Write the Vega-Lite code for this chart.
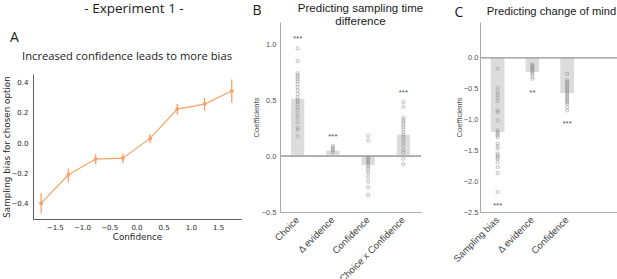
{
  "$schema": "https://vega.github.io/schema/vega-lite/v6.json",
  "padding": {"left": 1, "top": 1, "right": 0, "bottom": 0},
  "config": {
    "view": {"stroke": null},
    "font": "Liberation Sans",
    "title": {"fontWeight": "normal", "color": "#1a1a1a"},
    "axis": {"grid": false, "ticks": false, "labelOverlap": false, "tickCount": 20}
  },
  "datasets": {
    "a": [
      {"confidence": -1.75, "bias": -0.396, "lo": -0.462, "hi": -0.329},
      {"confidence": -1.25, "bias": -0.209, "lo": -0.258, "hi": -0.167},
      {"confidence": -0.75, "bias": -0.105, "lo": -0.14, "hi": -0.073},
      {"confidence": -0.25, "bias": -0.099, "lo": -0.132, "hi": -0.07},
      {"confidence": 0.25, "bias": 0.031, "lo": 0.0, "hi": 0.059},
      {"confidence": 0.75, "bias": 0.224, "lo": 0.187, "hi": 0.257},
      {"confidence": 1.25, "bias": 0.257, "lo": 0.213, "hi": 0.299},
      {"confidence": 1.75, "bias": 0.343, "lo": 0.266, "hi": 0.418}
    ],
    "b_bars": [
      {"predictor": "Choice", "coef": 0.513, "stars": "***"},
      {"predictor": "Δ evidence", "coef": 0.051, "stars": "***"},
      {"predictor": "Confidence", "coef": -0.078, "stars": ""},
      {"predictor": "Choice x Confidence", "coef": 0.192, "stars": "***"}
    ],
    "b_points": [
      {"predictor": "Choice", "coef": 0.964}, {"predictor": "Choice", "coef": 0.85}, {"predictor": "Choice", "coef": 0.742},
      {"predictor": "Choice", "coef": 0.724}, {"predictor": "Choice", "coef": 0.706}, {"predictor": "Choice", "coef": 0.688},
      {"predictor": "Choice", "coef": 0.67}, {"predictor": "Choice", "coef": 0.643}, {"predictor": "Choice", "coef": 0.616},
      {"predictor": "Choice", "coef": 0.586}, {"predictor": "Choice", "coef": 0.556}, {"predictor": "Choice", "coef": 0.526},
      {"predictor": "Choice", "coef": 0.502}, {"predictor": "Choice", "coef": 0.486}, {"predictor": "Choice", "coef": 0.465},
      {"predictor": "Choice", "coef": 0.435}, {"predictor": "Choice", "coef": 0.411}, {"predictor": "Choice", "coef": 0.375},
      {"predictor": "Choice", "coef": 0.345}, {"predictor": "Choice", "coef": 0.303}, {"predictor": "Choice", "coef": 0.255},
      {"predictor": "Choice", "coef": 0.237}, {"predictor": "Choice", "coef": 0.177},
      {"predictor": "Δ evidence", "coef": 0.035}, {"predictor": "Δ evidence", "coef": 0.05}, {"predictor": "Δ evidence", "coef": 0.065},
      {"predictor": "Δ evidence", "coef": 0.075}, {"predictor": "Δ evidence", "coef": 0.09},
      {"predictor": "Confidence", "coef": 0.183}, {"predictor": "Confidence", "coef": 0.141}, {"predictor": "Confidence", "coef": -0.009},
      {"predictor": "Confidence", "coef": -0.024}, {"predictor": "Confidence", "coef": -0.039}, {"predictor": "Confidence", "coef": -0.054},
      {"predictor": "Confidence", "coef": -0.069}, {"predictor": "Confidence", "coef": -0.087}, {"predictor": "Confidence", "coef": -0.108},
      {"predictor": "Confidence", "coef": -0.129}, {"predictor": "Confidence", "coef": -0.153}, {"predictor": "Confidence", "coef": -0.189},
      {"predictor": "Confidence", "coef": -0.228}, {"predictor": "Confidence", "coef": -0.279}, {"predictor": "Confidence", "coef": -0.348},
      {"predictor": "Choice x Confidence", "coef": 0.483}, {"predictor": "Choice x Confidence", "coef": 0.441},
      {"predictor": "Choice x Confidence", "coef": 0.342}, {"predictor": "Choice x Confidence", "coef": 0.321},
      {"predictor": "Choice x Confidence", "coef": 0.303}, {"predictor": "Choice x Confidence", "coef": 0.282},
      {"predictor": "Choice x Confidence", "coef": 0.261}, {"predictor": "Choice x Confidence", "coef": 0.237},
      {"predictor": "Choice x Confidence", "coef": 0.213}, {"predictor": "Choice x Confidence", "coef": 0.192},
      {"predictor": "Choice x Confidence", "coef": 0.171}, {"predictor": "Choice x Confidence", "coef": 0.147},
      {"predictor": "Choice x Confidence", "coef": 0.123}, {"predictor": "Choice x Confidence", "coef": 0.093},
      {"predictor": "Choice x Confidence", "coef": 0.057}, {"predictor": "Choice x Confidence", "coef": 0.033},
      {"predictor": "Choice x Confidence", "coef": -0.024}, {"predictor": "Choice x Confidence", "coef": -0.072}
    ],
    "c_bars": [
      {"predictor": "Sampling bias", "coef": -1.204, "stars": "***"},
      {"predictor": "Δ evidence", "coef": -0.232, "stars": "**"},
      {"predictor": "Confidence", "coef": -0.572, "stars": "***"}
    ],
    "c_points": [
      {"predictor": "Sampling bias", "coef": -0.178}, {"predictor": "Sampling bias", "coef": -0.486}, {"predictor": "Sampling bias", "coef": -0.556},
      {"predictor": "Sampling bias", "coef": -0.6}, {"predictor": "Sampling bias", "coef": -0.648}, {"predictor": "Sampling bias", "coef": -0.702},
      {"predictor": "Sampling bias", "coef": -0.853}, {"predictor": "Sampling bias", "coef": -0.88}, {"predictor": "Sampling bias", "coef": -1.015},
      {"predictor": "Sampling bias", "coef": -1.177}, {"predictor": "Sampling bias", "coef": -1.204}, {"predictor": "Sampling bias", "coef": -1.231},
      {"predictor": "Sampling bias", "coef": -1.258}, {"predictor": "Sampling bias", "coef": -1.285}, {"predictor": "Sampling bias", "coef": -1.393},
      {"predictor": "Sampling bias", "coef": -1.436}, {"predictor": "Sampling bias", "coef": -1.474}, {"predictor": "Sampling bias", "coef": -1.555},
      {"predictor": "Sampling bias", "coef": -1.582}, {"predictor": "Sampling bias", "coef": -1.609}, {"predictor": "Sampling bias", "coef": -1.636},
      {"predictor": "Sampling bias", "coef": -1.69}, {"predictor": "Sampling bias", "coef": -1.771}, {"predictor": "Sampling bias", "coef": -1.868},
      {"predictor": "Sampling bias", "coef": -2.176},
      {"predictor": "Δ evidence", "coef": -0.108}, {"predictor": "Δ evidence", "coef": -0.13}, {"predictor": "Δ evidence", "coef": -0.15},
      {"predictor": "Δ evidence", "coef": -0.17}, {"predictor": "Δ evidence", "coef": -0.19}, {"predictor": "Δ evidence", "coef": -0.21},
      {"predictor": "Δ evidence", "coef": -0.23}, {"predictor": "Δ evidence", "coef": -0.26}, {"predictor": "Δ evidence", "coef": -0.3},
      {"predictor": "Δ evidence", "coef": -0.34},
      {"predictor": "Confidence", "coef": -0.26}, {"predictor": "Confidence", "coef": -0.367}, {"predictor": "Confidence", "coef": -0.394},
      {"predictor": "Confidence", "coef": -0.421}, {"predictor": "Confidence", "coef": -0.448}, {"predictor": "Confidence", "coef": -0.475},
      {"predictor": "Confidence", "coef": -0.502}, {"predictor": "Confidence", "coef": -0.529}, {"predictor": "Confidence", "coef": -0.556},
      {"predictor": "Confidence", "coef": -0.583}, {"predictor": "Confidence", "coef": -0.61}, {"predictor": "Confidence", "coef": -0.637},
      {"predictor": "Confidence", "coef": -0.664}, {"predictor": "Confidence", "coef": -0.691}, {"predictor": "Confidence", "coef": -0.718},
      {"predictor": "Confidence", "coef": -0.745}, {"predictor": "Confidence", "coef": -0.8}, {"predictor": "Confidence", "coef": -0.853}
    ]
  },
  "spacing": 11,
  "hconcat": [
    {
      "spacing": 7,
      "vconcat": [
        {
          "width": 208,
          "height": 1,
          "title": {"text": "- Experiment 1 -", "font": "Open Sans", "fontSize": 13.5, "anchor": "middle", "dx": -3, "offset": 7},
          "data": {"values": []},
          "mark": "point"
        },
        {
          "title": {"text": "A", "font": "Open Sans", "fontSize": 14, "anchor": "start", "dx": 8, "offset": 6},
          "vconcat": [
            {
              "width": 208,
              "height": 145,
              "title": {"text": "Increased confidence leads to more bias", "font": "Open Sans", "fontSize": 11.2, "anchor": "middle", "dx": -10, "offset": 12},
              "data": {"name": "a"},
              "encoding": {
                "x": {
                  "field": "confidence", "type": "quantitative",
                  "scale": {"domain": [-1.9, 1.92], "nice": false, "zero": false},
                  "axis": {"values": [-1.5, -1, -0.5, 0, 0.5, 1, 1.5], "format": ".1f", "title": "Confidence", "labelOverlap": false, "tickCount": 20,
                    "domainColor": "#333", "domainWidth": 0.8, "labelColor": "#262626", "labelFont": "DejaVu Sans", "labelFontSize": 7,
                    "labelPadding": 4, "titleFont": "DejaVu Sans", "titleFontSize": 8.8, "titleFontWeight": "normal", "titleColor": "#262626", "titlePadding": 2}
                }
              },
              "layer": [
                {
                  "mark": {"type": "rule", "color": "#f4a46a", "strokeWidth": 1.3},
                  "encoding": {
                    "y": {"field": "lo", "type": "quantitative"},
                    "y2": {"field": "hi"}
                  }
                },
                {
                  "mark": {"type": "line", "color": "#f4a46a", "strokeWidth": 1.2, "point": {"filled": true, "size": 16, "color": "#f4a46a"}},
                  "encoding": {
                    "y": {
                      "field": "bias", "type": "quantitative",
                      "scale": {"domain": [-0.5, 0.455], "nice": false, "zero": false},
                      "axis": {"values": [-0.4, -0.2, 0, 0.2, 0.4], "format": ".1f", "title": "Sampling bias for chosen option", "labelOverlap": false, "tickCount": 20,
                        "domainColor": "#333", "domainWidth": 0.8, "labelColor": "#262626", "labelFont": "DejaVu Sans", "labelFontSize": 7,
                        "labelPadding": 5, "titleFont": "DejaVu Sans", "titleFontSize": 8.8, "titleFontWeight": "normal", "titleColor": "#262626",
                        "titleX": -22, "titleBaseline": "bottom"}
                    }
                  }
                }
              ]
            }
          ]
        }
      ]
    },
    {
      "spacing": 27,
      "hconcat": [
        {
          "title": {"text": "B", "font": "Open Sans", "fontSize": 14, "anchor": "start", "dx": 0.5, "offset": -15},
          "vconcat": [
            {
              "width": 141,
              "height": 190,
              "title": {"text": ["Predicting sampling time", "difference"], "fontSize": 11.5, "lineHeight": 13, "anchor": "middle", "dx": 10, "offset": -5},
              "encoding": {
                "x": {
                  "field": "predictor", "type": "nominal",
                  "sort": ["Choice", "Δ evidence", "Confidence", "Choice x Confidence"],
                  "scale": {"paddingInner": 0.625, "paddingOuter": 0.3125, "align": 0.5},
                  "axis": {"title": null, "labelAngle": -45, "labelAlign": "right", "labelBaseline": "middle", "labelPadding": 6,
                    "labelFontSize": 9.5, "labelColor": "#444", "domainColor": "#aaa", "domainWidth": 1}
                }
              },
              "layer": [
                {
                  "data": {"name": "b_bars"},
                  "mark": {"type": "bar", "color": "#dcdcdc"},
                  "encoding": {
                    "y": {
                      "field": "coef", "type": "quantitative",
                      "scale": {"domain": [-0.5, 1.2], "nice": false, "zero": false},
                      "axis": {"values": [-0.5, 0, 0.5, 1], "format": ".1f", "title": "Coefficients", "labelOverlap": false, "tickCount": 20,
                        "domainColor": "#aaa", "labelColor": "#555", "labelFontSize": 7.5, "labelPadding": 4,
                        "titleFontSize": 7.7, "titleFontWeight": "normal", "titleColor": "#444", "titleX": -20, "titleBaseline": "bottom"}
                    }
                  }
                },
                {
                  "data": {"name": "b_bars"},
                  "mark": {"type": "rule", "color": "#aaa", "strokeWidth": 1},
                  "encoding": {"y": {"datum": 0}, "x": null}
                },
                {
                  "data": {"name": "b_points"},
                  "mark": {"type": "point", "shape": "circle", "filled": false, "stroke": "#8a8a8a", "strokeWidth": 0.8, "size": 10},
                  "encoding": {"y": {"field": "coef", "type": "quantitative"}}
                },
                {
                  "data": {"name": "b_points"},
                  "transform": [
                    {"aggregate": [{"op": "max", "field": "coef", "as": "top"}], "groupby": ["predictor"]},
                    {"lookup": "predictor", "from": {"data": {"name": "b_bars"}, "key": "predictor", "fields": ["stars"]}}
                  ],
                  "mark": {"type": "text", "fontSize": 8, "color": "#555", "baseline": "middle", "dy": -9},
                  "encoding": {"y": {"field": "top", "type": "quantitative"}, "text": {"field": "stars"}}
                }
              ]
            }
          ]
        },
        {
          "title": {"text": "C", "font": "Open Sans", "fontSize": 14, "anchor": "start", "dx": 3, "offset": -14},
          "vconcat": [
            {
              "width": 143,
              "height": 190,
              "title": {"text": "Predicting change of mind", "fontSize": 11.2, "anchor": "middle", "dx": 0, "offset": 5},
              "encoding": {
                "x": {
                  "field": "predictor", "type": "nominal",
                  "sort": ["Sampling bias", "Δ evidence", "Confidence"],
                  "scale": {"paddingInner": 0.605, "paddingOuter": 0.86, "align": 0.18},
                  "axis": {"title": null, "labelAngle": -45, "labelAlign": "right", "labelBaseline": "middle", "labelPadding": 6,
                    "labelFontSize": 9.5, "labelColor": "#444", "domainColor": "#aaa", "domainWidth": 1}
                }
              },
              "layer": [
                {
                  "data": {"name": "c_bars"},
                  "mark": {"type": "bar", "color": "#dcdcdc"},
                  "encoding": {
                    "y": {
                      "field": "coef", "type": "quantitative",
                      "scale": {"domain": [-2.5, 0.58], "nice": false, "zero": false},
                      "axis": {"values": [-2.5, -2, -1.5, -1, -0.5, 0], "format": ".1f", "title": "Coefficients", "labelOverlap": false, "tickCount": 20,
                        "domainColor": "#aaa", "labelColor": "#555", "labelFontSize": 7.5, "labelPadding": 2,
                        "titleFontSize": 7.7, "titleFontWeight": "normal", "titleColor": "#444", "titleX": -17, "titleBaseline": "bottom"}
                    }
                  }
                },
                {
                  "data": {"name": "c_bars"},
                  "mark": {"type": "rule", "color": "#aaa", "strokeWidth": 1},
                  "encoding": {"y": {"datum": 0}, "x": null}
                },
                {
                  "data": {"name": "c_points"},
                  "mark": {"type": "point", "shape": "circle", "filled": false, "stroke": "#8a8a8a", "strokeWidth": 0.8, "size": 10},
                  "encoding": {"y": {"field": "coef", "type": "quantitative"}}
                },
                {
                  "data": {"name": "c_points"},
                  "transform": [
                    {"aggregate": [{"op": "min", "field": "coef", "as": "bottom"}], "groupby": ["predictor"]},
                    {"lookup": "predictor", "from": {"data": {"name": "c_bars"}, "key": "predictor", "fields": ["stars"]}}
                  ],
                  "mark": {"type": "text", "fontSize": 8, "color": "#555", "baseline": "middle", "dy": 14},
                  "encoding": {"y": {"field": "bottom", "type": "quantitative"}, "text": {"field": "stars"}}
                }
              ]
            }
          ]
        }
      ]
    }
  ]
}
